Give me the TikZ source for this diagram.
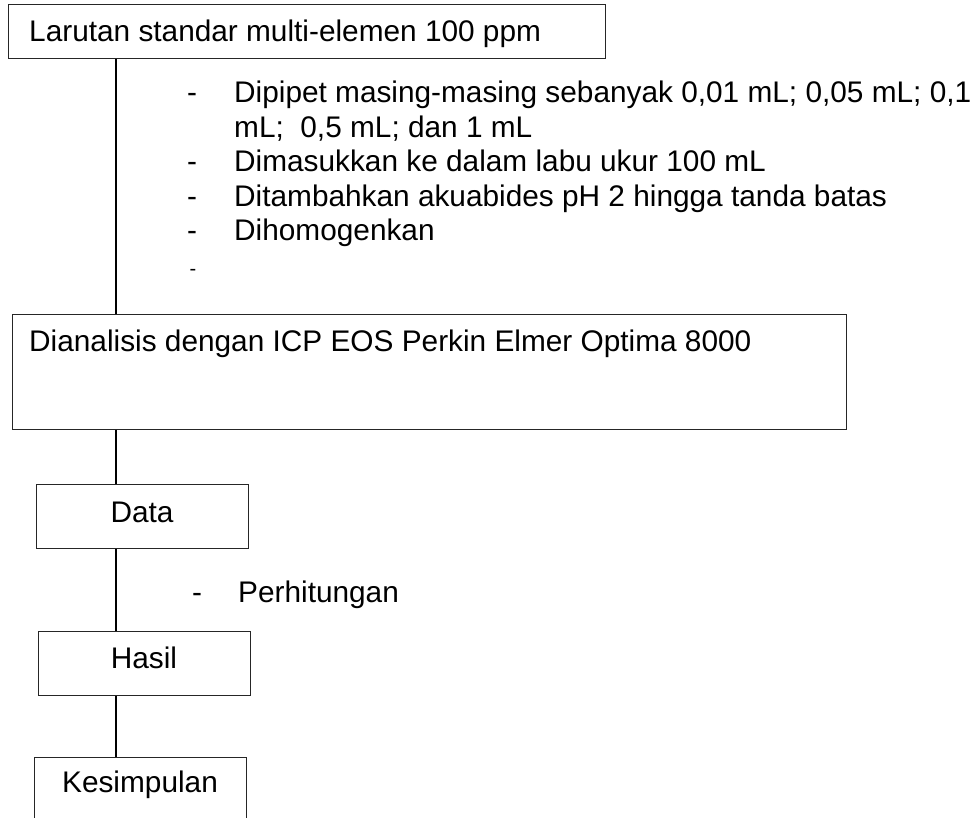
\documentclass[tikz,border=0pt]{standalone}
\usepackage{fontspec}
\setmainfont{Liberation Sans}
\begin{document}
\begin{tikzpicture}[x=1pt,y=-1pt,
  box/.style={draw=black!85, line width=1.3pt, rectangle, inner sep=0pt, anchor=north west},
  conn/.style={draw=black, line width=1.7pt},
  txt/.style={inner sep=0pt, anchor=base west, font=\fontsize{29.8}{34.5}\selectfont},
  dashmark/.style={inner sep=0pt, anchor=base, font=\fontsize{29.8}{34.5}\selectfont},
  smalldash/.style={inner sep=0pt, anchor=base, font=\fontsize{20}{24}\selectfont},
  ctxt/.style={inner sep=0pt, anchor=base, font=\fontsize{29.8}{34.5}\selectfont}]
\useasboundingbox (0,0) rectangle (980,818);
\clip (0,0) rectangle (980,818);
\fill[white] (0,0) rectangle (980,818);
\coordinate (spine) at (116,0);

% boxes
\node[box, minimum width=597pt, minimum height=54pt] (b1) at (8,4) {};
\node[box, minimum width=834pt, minimum height=115pt] (b2) at (12,314) {};
\node[box, minimum width=212pt, minimum height=64pt] (data) at (36,484) {};
\node[box, minimum width=212pt, minimum height=64pt] (hasil) at (38,631) {};
\node[box, minimum width=212pt, minimum height=90pt] (kes) at (34,757) {};

% box texts
\node[txt] (t1) at (29,42) {Larutan standar multi-elemen 100 ppm};
\node[txt] (t2) at (29,352) {Dianalisis dengan ICP EOS Perkin Elmer Optima 8000};
\node[ctxt] (t3) at (142,522) {Data};
\node[ctxt] (t4) at (144,668) {Hasil};
\node[ctxt] (t5) at (140,792) {Kesimpulan};

% step list
\node[dashmark] (d1) at (192,103) {-};
\node[txt] (l1) at (234,103) {Dipipet masing-masing sebanyak 0,01 mL; 0,05 mL; 0,1};
\node[txt] (l1b) at (234,137.5) {mL;\ \ 0,5 mL; dan 1 mL};
\node[dashmark] (d2) at (192,172) {-};
\node[txt] (l2) at (234,172) {Dimasukkan ke dalam labu ukur 100 mL};
\node[dashmark] (d3) at (192,206.5) {-};
\node[txt] (l3) at (234,206.5) {Ditambahkan akuabides pH 2 hingga tanda batas};
\node[dashmark] (d4) at (192,241) {-};
\node[txt] (l4) at (234,241) {Dihomogenkan};
\node[smalldash] (d5) at (193,276) {-};

\node[dashmark] (d6) at (197,602) {-};
\node[txt] (l6) at (238,602) {Perhitungan};

% connectors
\draw[conn] (b1.south -| spine) -- (b2.north -| spine);
\draw[conn] (b2.south -| spine) -- (data.north -| spine);
\draw[conn] (data.south -| spine) -- (hasil.north -| spine);
\draw[conn] (hasil.south -| spine) -- (kes.north -| spine);
\end{tikzpicture}
\end{document}
